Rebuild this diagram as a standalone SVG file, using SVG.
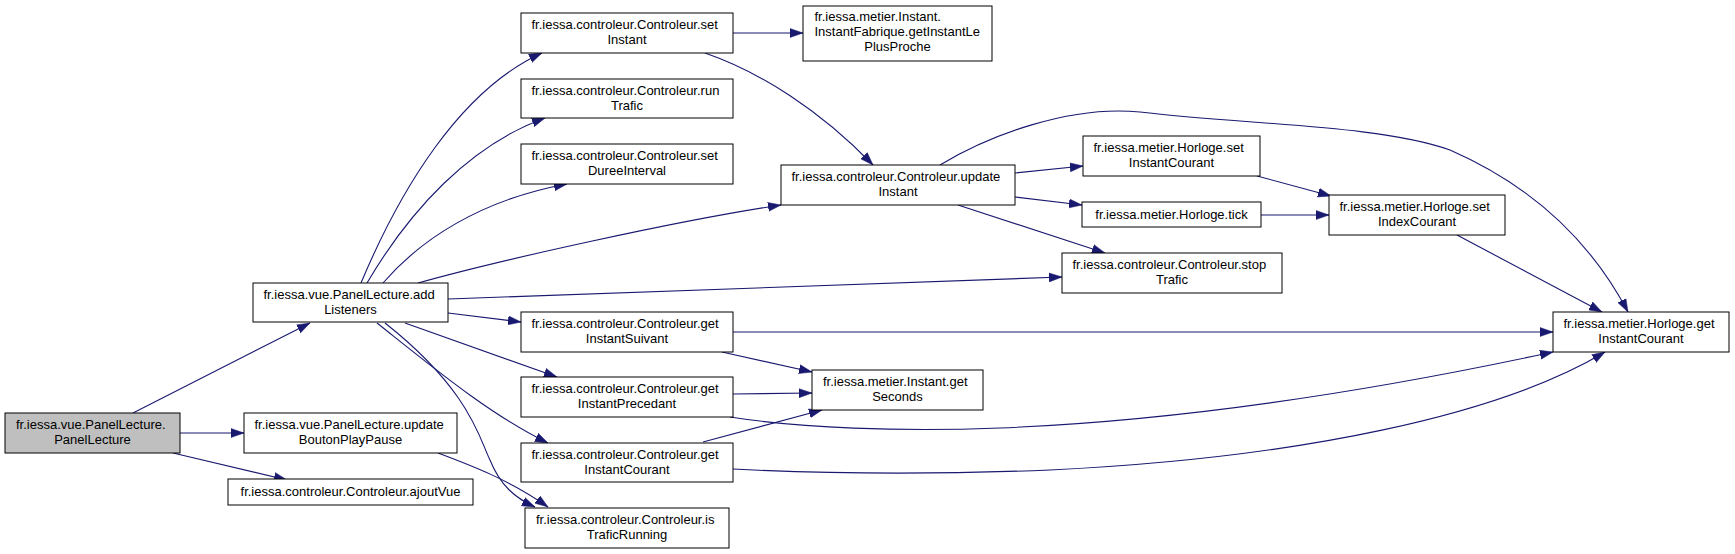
<svg xmlns="http://www.w3.org/2000/svg" width="1735" height="554" viewBox="0 0 1735 554">
<defs>
<marker id="ah" markerUnits="userSpaceOnUse" markerWidth="14" markerHeight="10" refX="13" refY="5" orient="auto">
<path d="M0,0.5 L13,5 L0,9.5 z" fill="#191970" stroke="#191970" stroke-width="0.5"/>
</marker>
</defs>
<style>
.nd rect{fill:#ffffff;stroke:#000000;stroke-width:1}
.nd.hl rect{fill:#bfbfbf}
.nd text{font-family:"Liberation Sans",Arial,sans-serif;font-size:13px;fill:#000000}
.m{text-anchor:middle}
.e path{fill:none;stroke:#191970;stroke-width:1.1;marker-end:url(#ah)}
</style>
<rect width="1735" height="554" fill="#ffffff"/>
<g id="edges" class="e">
<path d="M133,413 L310,323"/>
<path d="M180,433 L244,433"/>
<path d="M173,453 L287,480"/>
<path d="M361,283 C400,190 460,90 542,53"/>
<path d="M367,283 C410,210 470,145 545,118"/>
<path d="M383,283 C420,240 480,200 567,184"/>
<path d="M418,283 C500,260 680,220 781,205"/>
<path d="M448,299 L1062,277"/>
<path d="M448,313 L521,322"/>
<path d="M405,323 L557,377"/>
<path d="M377,323 C430,365 490,415 548,443"/>
<path d="M385,323 C470,390 480,440 490,460 C500,485 515,498 535,507"/>
<path d="M438,453 C470,465 510,480 548,507"/>
<path d="M733,33 L803,33"/>
<path d="M705,53 C760,72 820,110 873,165"/>
<path d="M1015,173 L1083,166"/>
<path d="M1015,197 L1082,205"/>
<path d="M958,205 L1105,253"/>
<path d="M940,165 C990,135 1070,105 1140,112 C1250,125 1380,125 1450,150 C1530,185 1590,240 1628,312"/>
<path d="M1257,176 L1331,196"/>
<path d="M1261,215 L1329,215"/>
<path d="M1457,235 L1602,312"/>
<path d="M733,332 L1553,332"/>
<path d="M722,352 L812,372"/>
<path d="M733,394 L812,393"/>
<path d="M730,417 C800,428 900,432 1000,428 C1200,420 1400,385 1553,352"/>
<path d="M703,442 L822,410"/>
<path d="M733,469 C850,475 950,474 1050,470 C1300,458 1500,415 1605,352"/>
</g>
<g id="n_PanelLecture" class="nd hl"><rect x="5" y="413" width="175" height="40"/><text x="16" y="429">fr.iessa.vue.PanelLecture.</text><text class="m" x="92.5" y="444">PanelLecture</text></g>
<g id="n_addListeners" class="nd"><rect x="253" y="283" width="195" height="39"/><text x="263.5" y="299">fr.iessa.vue.PanelLecture.add</text><text class="m" x="350.5" y="314">Listeners</text></g>
<g id="n_updateBoutonPlayPause" class="nd"><rect x="244" y="413" width="213" height="40"/><text x="254.5" y="429">fr.iessa.vue.PanelLecture.update</text><text class="m" x="350.5" y="444">BoutonPlayPause</text></g>
<g id="n_ajoutVue" class="nd"><rect x="228" y="479" width="245" height="26"/><text class="m" x="350.5" y="496">fr.iessa.controleur.Controleur.ajoutVue</text></g>
<g id="n_setInstant" class="nd"><rect x="521" y="13" width="212" height="40"/><text x="531.5" y="29">fr.iessa.controleur.Controleur.set</text><text class="m" x="627" y="44">Instant</text></g>
<g id="n_runTrafic" class="nd"><rect x="521" y="79" width="212" height="39"/><text x="531.5" y="95">fr.iessa.controleur.Controleur.run</text><text class="m" x="627" y="110">Trafic</text></g>
<g id="n_setDureeInterval" class="nd"><rect x="521" y="144" width="212" height="40"/><text x="531.5" y="160">fr.iessa.controleur.Controleur.set</text><text class="m" x="627" y="175">DureeInterval</text></g>
<g id="n_getInstantSuivant" class="nd"><rect x="521" y="312" width="212" height="40"/><text x="531.5" y="328">fr.iessa.controleur.Controleur.get</text><text class="m" x="627" y="343">InstantSuivant</text></g>
<g id="n_getInstantPrecedant" class="nd"><rect x="521" y="377" width="212" height="40"/><text x="531.5" y="393">fr.iessa.controleur.Controleur.get</text><text class="m" x="627" y="408">InstantPrecedant</text></g>
<g id="n_getInstantCourantC" class="nd"><rect x="521" y="443" width="212" height="39"/><text x="531.5" y="459">fr.iessa.controleur.Controleur.get</text><text class="m" x="627" y="474">InstantCourant</text></g>
<g id="n_isTraficRunning" class="nd"><rect x="525" y="508" width="204" height="40"/><text x="536" y="524">fr.iessa.controleur.Controleur.is</text><text class="m" x="627" y="539">TraficRunning</text></g>
<g id="n_getInstantLePlusProche" class="nd"><rect x="803" y="6" width="189" height="55"/><text x="814.5" y="21">fr.iessa.metier.Instant.</text><text x="814.5" y="36">InstantFabrique.getInstantLe</text><text class="m" x="897.5" y="51">PlusProche</text></g>
<g id="n_updateInstant" class="nd"><rect x="781" y="165" width="234" height="40"/><text x="791.5" y="181">fr.iessa.controleur.Controleur.update</text><text class="m" x="898" y="196">Instant</text></g>
<g id="n_getSeconds" class="nd"><rect x="812" y="370" width="171" height="40"/><text x="823" y="386">fr.iessa.metier.Instant.get</text><text class="m" x="897.5" y="401">Seconds</text></g>
<g id="n_setInstantCourant" class="nd"><rect x="1083" y="136" width="177" height="40"/><text x="1093.5" y="152">fr.iessa.metier.Horloge.set</text><text class="m" x="1171.5" y="167">InstantCourant</text></g>
<g id="n_tick" class="nd"><rect x="1082" y="202" width="179" height="25"/><text class="m" x="1171.5" y="219">fr.iessa.metier.Horloge.tick</text></g>
<g id="n_stopTrafic" class="nd"><rect x="1062" y="253" width="220" height="40"/><text x="1072.5" y="269">fr.iessa.controleur.Controleur.stop</text><text class="m" x="1172" y="284">Trafic</text></g>
<g id="n_setIndexCourant" class="nd"><rect x="1329" y="195" width="176" height="40"/><text x="1339.5" y="211">fr.iessa.metier.Horloge.set</text><text class="m" x="1417" y="226">IndexCourant</text></g>
<g id="n_getInstantCourantH" class="nd"><rect x="1553" y="312" width="176" height="40"/><text x="1563.5" y="328">fr.iessa.metier.Horloge.get</text><text class="m" x="1641" y="343">InstantCourant</text></g>
</svg>
